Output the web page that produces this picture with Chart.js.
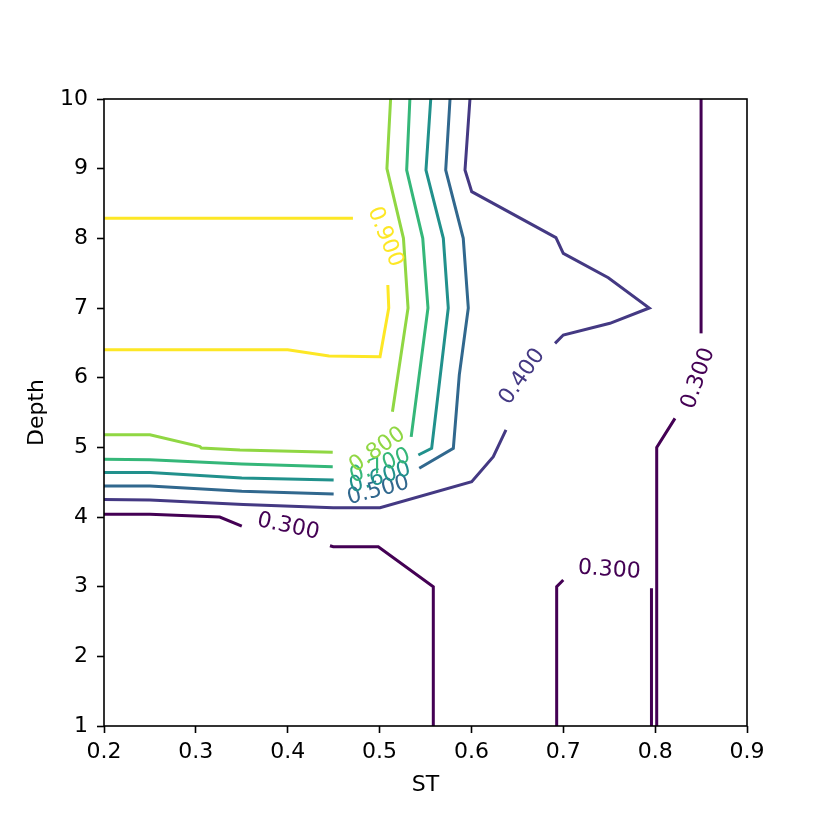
<!DOCTYPE html>
<html>
<head>
<meta charset="utf-8">
<script src="https://cdn.jsdelivr.net/npm/chart.js@4/dist/chart.umd.min.js"></script>
<style>
html,body{margin:0;padding:0;background:#fff;}
#wrap{width:830px;height:830px;}
</style>
</head>
<body>
<div id="wrap"><canvas id="c" width="830" height="830"></canvas></div>
<script>
// ---- data ----
const xTicks = [0.2, 0.3, 0.4, 0.5, 0.6, 0.7, 0.8, 0.9];
const yTicks = [1, 2, 3, 4, 5, 6, 7, 8, 9, 10];
const levels = [0.3, 0.4, 0.5, 0.6, 0.7, 0.8, 0.9];

// contour segments [ST, Depth]
const c300a = [[0.2,4.04],[0.25,4.04],[0.326,4.00],[0.35,3.87]];
const c300b = [[0.446,3.588],[0.4496,3.573],[0.4986,3.573],[0.5585,3.0],[0.5585,1]];
const c300c = [[0.6928,1],[0.6928,3.0],[0.70,3.096]];
const c300d = [[0.796,2.976],[0.796,1]];
const c300e = [[0.8017,1],[0.8017,5.0],[0.8216,5.416]];
const c300f = [[0.85,6.636],[0.85,10]];

const c400a = [[0.2,4.25],[0.25,4.245],[0.3516,4.18],[0.4496,4.133],[0.5005,4.133],[0.6003,4.507],[0.6238,4.865],[0.6376,5.25]];
const c400b = [[0.691,6.493],[0.70,6.612],[0.7508,6.78],[0.7936,7.0],[0.749,7.435],[0.70,7.785],[0.692,8.01],[0.6003,8.67],[0.593,8.98],[0.5984,10]];

const c500a = [[0.2,4.445],[0.25,4.445],[0.35,4.37],[0.45,4.33]];
const c500b = [[0.5432,4.70],[0.5803,4.986],[0.5868,6.04],[0.5966,7.0],[0.5911,8.0],[0.572,8.98],[0.5767,10]];

const c600a = [[0.2,4.64],[0.25,4.64],[0.35,4.56],[0.45,4.53]];
const c600b = [[0.5422,4.89],[0.5567,4.986],[0.5748,7.0],[0.5694,8.0],[0.5505,8.98],[0.5557,10]];

const c700a = [[0.2,4.83],[0.25,4.82],[0.35,4.76],[0.449,4.72]];
const c700b = [[0.5344,5.15],[0.5527,7.0],[0.547,8.0],[0.5295,8.98],[0.533,10]];

const c800a = [[0.2,5.18],[0.25,5.18],[0.3045,5.01],[0.306,4.99],[0.348,4.96],[0.449,4.93]];
const c800b = [[0.514,5.51],[0.531,7.0],[0.526,8.0],[0.508,9.0],[0.512,10]];

const c900a = [[0.2,8.29],[0.471,8.29]];
const c900b = [[0.509,7.33],[0.510,7.0],[0.5005,6.30],[0.445,6.31],[0.4,6.40],[0.2,6.40]];

// contour labels
const labelLevel = [0.3, 0.3, 0.3, 0.4, 0.5, 0.6, 0.7, 0.8, 0.9];
const labelX     = [0.4006, 0.750, 0.847, 0.6554, 0.4986, 0.5005, 0.5005, 0.4977, 0.506];
const labelY     = [3.861, 3.239, 5.99, 6.014, 4.38, 4.56, 4.73, 4.962, 8.02];

// ---- styles ----
const levelColors = {0.3:'#440154',0.4:'#443983',0.5:'#31688e',0.6:'#21918c',0.7:'#35b779',0.8:'#90d743',0.9:'#fde725'};
const labelAngles = [12, 4, -71, -55, -15, -17, -21, -35, 68];
const FONT = "'DejaVu Sans', sans-serif";
const FS = 22;

const segments = [
  [0.3,c300a],[0.3,c300b],[0.3,c300c],[0.3,c300d],[0.3,c300e],[0.3,c300f],
  [0.4,c400a],[0.4,c400b],
  [0.5,c500a],[0.5,c500b],
  [0.6,c600a],[0.6,c600b],
  [0.7,c700a],[0.7,c700b],
  [0.8,c800a],[0.8,c800b],
  [0.9,c900a],[0.9,c900b]
];

const datasets = segments.map(([lv, pts]) => ({
  data: pts.map(p => ({x:p[0], y:p[1]})),
  showLine: true,
  borderColor: levelColors[lv],
  borderWidth: 3,
  pointRadius: 0,
  fill: false,
  tension: 0,
  clip: false
}));

const decor = {
  id: 'decor',
  afterDatasetsDraw(chart) {
    const ctx = chart.ctx, xs = chart.scales.x, ys = chart.scales.y;
    ctx.save();
    ctx.font = FS + "px " + FONT;
    ctx.textAlign = 'center';
    ctx.textBaseline = 'middle';
    labelLevel.forEach((lv, i) => {
      const px = xs.getPixelForValue(labelX[i]);
      const py = ys.getPixelForValue(labelY[i]);
      ctx.save();
      ctx.translate(px, py);
      ctx.rotate(labelAngles[i] * Math.PI / 180);
      ctx.fillStyle = levelColors[lv];
      ctx.fillText(lv.toFixed(3), 0, 0);
      ctx.restore();
    });
    ctx.restore();
  },
  afterDraw(chart) {
    const ctx = chart.ctx, a = chart.chartArea;
    ctx.save();
    ctx.strokeStyle = '#000';
    ctx.lineWidth = 1.6;
    ctx.strokeRect(a.left, a.top, a.right - a.left, a.bottom - a.top);
    ctx.fillStyle = '#000';
    ctx.font = FS + "px " + FONT;
    ctx.textAlign = 'center';
    ctx.textBaseline = 'middle';
    ctx.fillText('ST', (a.left + a.right) / 2, a.bottom + 59);
    ctx.save();
    ctx.translate(a.left - 67, (a.top + a.bottom) / 2);
    ctx.rotate(-Math.PI / 2);
    ctx.fillText('Depth', 0, 0);
    ctx.restore();
    ctx.restore();
  }
};

new Chart(document.getElementById('c'), {
  type: 'scatter',
  data: { datasets },
  options: {
    responsive: false,
    animation: false,
    devicePixelRatio: 1,
    layout: { padding: { top: 99, right: 83, left: 0, bottom: 0 } },
    plugins: { legend: { display: false }, tooltip: { enabled: false } },
    scales: {
      x: {
        type: 'linear', min: 0.2, max: 0.9,
        afterFit(s) { s.height = 104; },
        afterBuildTicks(s) { s.ticks = xTicks.map(v => ({value: v})); },
        ticks: { color: '#000', font: { family: FONT, size: FS }, padding: 6,
                 callback: v => Number(v).toFixed(1), maxRotation: 0, autoSkip: false },
        grid: { display: true, drawOnChartArea: false, drawTicks: true, tickLength: 7, tickWidth: 1.6, tickColor: '#000' },
        border: { display: false }
      },
      y: {
        type: 'linear', min: 1, max: 10,
        afterFit(s) { s.width = 104; },
        afterBuildTicks(s) { s.ticks = yTicks.map(v => ({value: v})); },
        ticks: { color: '#000', font: { family: FONT, size: FS }, padding: 9,
                 callback: v => String(v), autoSkip: false },
        grid: { display: true, drawOnChartArea: false, drawTicks: true, tickLength: 7, tickWidth: 1.6, tickColor: '#000' },
        border: { display: false }
      }
    }
  },
  plugins: [decor]
});
</script>
</body>
</html>
